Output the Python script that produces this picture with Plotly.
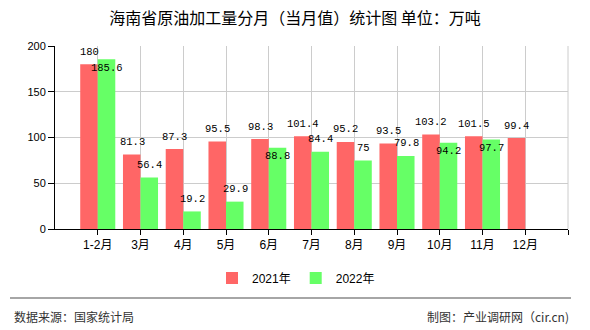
import plotly.graph_objects as go

categories = ["1-2月", "3月", "4月", "5月", "6月", "7月", "8月", "9月", "10月", "11月", "12月"]
values_2021 = [180, 81.3, 87.3, 95.5, 98.3, 101.4, 95.2, 93.5, 103.2, 101.5, 99.4]
values_2022 = [185.6, 56.4, 19.2, 29.9, 88.8, 84.4, 75, 79.8, 94.2, 97.7, None]
series_names = ["2021年", "2022年"]
y_ticks = [0, 50, 100, 150, 200]

RED = "#FF6666"
GREEN = "#66FF66"
xs = list(range(len(categories)))

# plot area in pixels: x 55..568, y 46..229
PL, PR, PT, PB = 55, 568, 46, 229
PW, PH = PR - PL, PB - PT


def px_x(x):
    return (x - PL) / PW


def px_y(y):
    return (PB - y) / PH


fig = go.Figure()
fig.add_trace(go.Bar(x=xs, y=values_2021, name=series_names[0], marker=dict(color=RED, line=dict(width=0))))
fig.add_trace(go.Bar(x=xs, y=values_2022, name=series_names[1], marker=dict(color=GREEN, line=dict(width=0))))

lab_font = dict(family="Liberation Mono, DejaVu Sans Mono, monospace", size=10.5, color="#000")
annots = []
for i, (a, b) in enumerate(zip(values_2021, values_2022)):
    annots.append(dict(x=xs[i], y=a, text=str(a), showarrow=False, xref="x", yref="y",
                       xshift=-8.5, yshift=12.5, font=lab_font))
    if b is not None:
        close = abs(b - a) < 12
        annots.append(dict(x=xs[i], y=b, text=str(b), showarrow=False, xref="x", yref="y",
                           xshift=9, yshift=(-8.5 if close else 12.5), font=lab_font))

footer_font = dict(family="Noto Sans CJK SC", size=12, color="#333")
fig.update_layout(
    width=590, height=330,
    margin=dict(l=PL, r=590 - PR, t=PT, b=330 - PB),
    paper_bgcolor="white", plot_bgcolor="white",
    barmode="group", bargap=0.18, bargroupgap=0,
    title=dict(text="海南省原油加工量分月（当月值）统计图 单位：万吨", x=0.5, xanchor="center",
               y=1 - 18 / 330, yanchor="middle",
               font=dict(family="Noto Sans CJK SC", size=16, color="#000")),
    font=dict(family="Liberation Sans, Noto Sans CJK SC", size=11, color="#000"),
    showlegend=True,
    legend=dict(orientation="h", x=px_x(212), xanchor="left", y=px_y(278), yanchor="middle",
                font=dict(family="Liberation Sans, Noto Sans CJK SC", size=12, color="#000"),
                itemwidth=30, traceorder="normal", bgcolor="rgba(0,0,0,0)"),
    annotations=annots + [
        dict(text="数据来源：国家统计局", x=px_x(12), xref="paper", xanchor="left",
             y=px_y(316), yref="paper", yanchor="middle", showarrow=False, font=footer_font),
        dict(text="制图：产业调研网（cir.cn)", x=px_x(571), xref="paper", xanchor="right",
             y=px_y(316), yref="paper", yanchor="middle", showarrow=False, font=footer_font),
    ],
    shapes=[
        dict(type="line", xref="paper", yref="paper", x0=px_x(10), x1=px_x(571),
             y0=px_y(298), y1=px_y(298), line=dict(color="#888", width=1.5)),
        dict(type="line", xref="paper", yref="paper", x0=1, x1=1, y0=0, y1=1,
             line=dict(color="#ccc", width=1), layer="below"),
    ],
)

fig.update_xaxes(range=[-1, 11], tickmode="array", tickvals=list(range(0, 12)),
                 ticktext=categories + [""], showgrid=True, gridcolor="#ccc", gridwidth=1,
                 showline=True, linecolor="#000", linewidth=1, ticks="outside", ticklen=5,
                 tickcolor="#000", zeroline=False,
                 tickfont=dict(family="Liberation Sans, Noto Sans CJK SC", size=12, color="#000"))
fig.update_yaxes(range=[0, 200], tickvals=y_ticks, showgrid=True, gridcolor="#ccc", gridwidth=1,
                 showline=True, linecolor="#000", linewidth=1, ticks="outside", ticklen=6,
                 tickcolor="#000", zeroline=False,
                 tickfont=dict(family="Liberation Sans", size=11, color="#000"))

fig.write_html("out.html")
